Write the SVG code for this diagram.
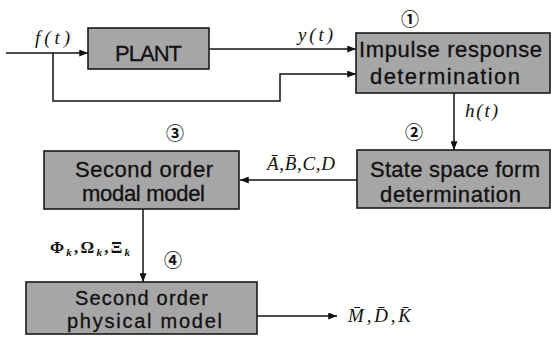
<svg xmlns="http://www.w3.org/2000/svg" width="551" height="345" viewBox="0 0 551 345">
<defs>
<marker id="ah" viewBox="0 0 10 8" refX="10" refY="4" markerWidth="9" markerHeight="7" markerUnits="userSpaceOnUse" orient="auto">
<path d="M0,0 L10,4 L0,8 Z" fill="#111"/>
</marker>
<style>
.box{fill:#a6a6a6;stroke:#1a1a1a;stroke-width:1.6}
.bt{font-family:"Liberation Sans",Arial,sans-serif;font-size:22px;fill:#111;stroke:#111;stroke-width:0.3}
.sm{font-size:20px}
.lbl{font-family:"Liberation Serif","DejaVu Serif",serif;font-style:italic;font-size:19px;fill:#111}
.num{font-family:"Noto Sans CJK KR","DejaVu Sans",sans-serif;font-size:18px;font-weight:bold;fill:#111;text-anchor:middle}
.gr{font-family:"Liberation Serif","DejaVu Serif",serif;font-weight:bold;font-size:17px;fill:#111}
.c{fill:none;stroke:#111;stroke-width:1.5}
</style>
</defs>
<rect width="551" height="345" fill="#fff"/>
<g id="connectors">
<path class="c" d="M6,53 H88" marker-end="url(#ah)"/>
<path class="c" d="M53,53 V101 H280 V74 H356" marker-end="url(#ah)"/>
<path class="c" d="M209,49 H356" marker-end="url(#ah)"/>
<path class="c" d="M454,93 V150" marker-end="url(#ah)"/>
<path class="c" d="M357,180 H240" marker-end="url(#ah)"/>
<path class="c" d="M143,209 V282" marker-end="url(#ah)"/>
<path class="c" d="M257,316 H337" marker-end="url(#ah)"/>
<text class="lbl" x="35" y="44" textLength="35">f(t)</text>
<text class="lbl" x="298" y="41" textLength="35">y(t)</text>
<text class="lbl" x="465" y="117" textLength="33">h(t)</text>
<text class="lbl" x="267" y="170" textLength="68">A&#772;,B&#772;,C,D</text>
<text class="gr" x="50" y="253" textLength="80">Φ<tspan font-size="11" font-style="italic" dy="3">k</tspan><tspan dy="-3">,Ω</tspan><tspan font-size="11" font-style="italic" dy="3">k</tspan><tspan dy="-3">,Ξ</tspan><tspan font-size="11" font-style="italic" dy="3">k</tspan></text>
<text class="lbl" x="348" y="322" textLength="63">M&#772;,D&#772;,K&#772;</text>
</g>
<g id="plant">
<rect class="box" x="88" y="28" width="121" height="41"/>
<text class="bt" x="115" y="61" textLength="67">PLANT</text>
</g>
<g id="impulse">
<rect class="box" x="356" y="33" width="194" height="60"/>
<text class="bt" x="359" y="57" textLength="183">Impulse response</text>
<text class="bt" x="370" y="84" textLength="150">determination</text>
<text class="num" x="410" y="26">①</text>
</g>
<g id="statespace">
<rect class="box" x="357" y="150" width="193" height="58"/>
<text class="bt" x="370" y="177" textLength="170">State space form</text>
<text class="bt" x="380" y="202" textLength="141">determination</text>
<text class="num" x="414" y="139">②</text>
</g>
<g id="modal">
<rect class="box" x="44" y="151" width="195" height="58"/>
<text class="bt" x="75" y="177" textLength="138">Second order</text>
<text class="bt" x="82" y="201" textLength="123">modal model</text>
<text class="num" x="175" y="140">③</text>
</g>
<g id="physical">
<rect class="box" x="26" y="282" width="231" height="52"/>
<text class="bt sm" x="75" y="305" textLength="133">Second order</text>
<text class="bt sm" x="67" y="328" textLength="155">physical model</text>
<text class="num" x="173" y="267">④</text>
</g>
</svg>
